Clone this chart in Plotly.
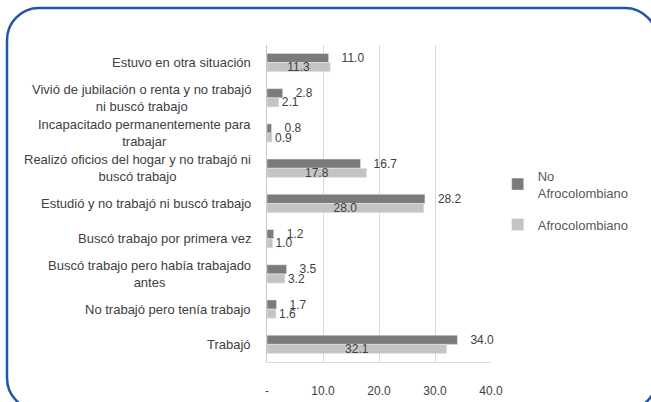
import plotly.graph_objects as go

categories = [
    "Estuvo en otra situación",
    "Vivió de jubilación o renta y no trabajó<br>ni buscó trabajo",
    "Incapacitado permanentemente para<br>trabajar",
    "Realizó oficios del hogar y no trabajó ni<br>buscó trabajo",
    "Estudió y no trabajó ni buscó trabajo",
    "Buscó trabajo por primera vez",
    "Buscó trabajo pero había trabajado<br>antes",
    "No trabajó pero tenía trabajo",
    "Trabajó",
]
no_afro = [11.0, 2.8, 0.8, 16.7, 28.2, 1.2, 3.5, 1.7, 34.0]
afro = [11.3, 2.1, 0.9, 17.8, 28.0, 1.0, 3.2, 1.6, 32.1]
series_names = ["No<br>Afrocolombiano", "Afrocolombiano"]
tick_vals = [0, 10, 20, 30, 40]
tick_text = ["-", "10.0", "20.0", "30.0", "40.0"]

W, H = 651, 402
ML, MR, MT, MB = 267, 160, 45, 40
PW = W - ML - MR
PH = H - MT - MB

FONT = "Liberation Sans, Arial"
TXT = "#404040"

fig = go.Figure()
fig.add_trace(go.Bar(
    y=categories, x=no_afro, orientation="h", name=series_names[0],
    marker=dict(color="#7b7b7b"),
    texttemplate="\u00a0\u00a0\u00a0%{x:.1f}", textposition="outside",
    constraintext="none",
    textfont=dict(family=FONT, size=12, color=TXT),
    cliponaxis=False, legendgroup="a",
))
afro_pos = ["inside" if v > 5 else "outside" for v in afro]
fig.add_trace(go.Bar(
    y=categories, x=afro, orientation="h", name=series_names[1],
    marker=dict(color="#c4c4c4"),
    texttemplate="%{x:.1f}", textposition=afro_pos, insidetextanchor="middle",
    constraintext="none",
    textfont=dict(family=FONT, size=12, color=TXT),
    insidetextfont=dict(family=FONT, size=12, color=TXT),
    outsidetextfont=dict(family=FONT, size=12, color=TXT),
    cliponaxis=False, legendgroup="b",
))

# category labels, centred line by line like the original
annotations = [
    dict(x=0, xref="paper", y=c, yref="y", text=c, showarrow=False,
         xanchor="right", xshift=-14, align="center",
         font=dict(family=FONT, size=13, color=TXT))
    for c in categories
]


def px(x):
    return (x - ML) / PW


def py(y):
    return (H - MB - y) / PH


L, T, R, B, r = 7, 8, 657, 410, 32
k = 0.5523 * r
pts = [
    ("M", [(L, T + r)]),
    ("C", [(L, T + r - k), (L + r - k, T), (L + r, T)]),
    ("L", [(R - r, T)]),
    ("C", [(R - r + k, T), (R, T + r - k), (R, T + r)]),
    ("L", [(R, B - r)]),
    ("C", [(R, B - r + k), (R - r + k, B), (R - r, B)]),
    ("L", [(L + r, B)]),
    ("C", [(L + r - k, B), (L, B - r + k), (L, B - r)]),
]
path = ""
for cmd, ps in pts:
    path += cmd + " " + " ".join(f"{px(a):.5f},{py(b):.5f}" for a, b in ps) + " "
path += "Z"

fig.update_layout(
    width=W, height=H,
    margin=dict(l=ML, r=MR, t=MT, b=MB, autoexpand=False),
    paper_bgcolor="white", plot_bgcolor="white",
    barmode="group", bargap=0.48, bargroupgap=0,
    font=dict(family=FONT, size=12, color=TXT),
    showlegend=True,
    legend=dict(x=1.03, xanchor="left", y=0.635, yanchor="top",
                font=dict(family=FONT, size=13, color="#595959"),
                traceorder="grouped", tracegroupgap=12,
                bgcolor="rgba(0,0,0,0)"),
    annotations=annotations,
    shapes=[dict(type="path", xref="paper", yref="paper", path=path,
                 line=dict(color="#1f56a6", width=2.5), layer="above")],
)
fig.update_xaxes(range=[0, 40], tickvals=tick_vals, ticktext=tick_text,
                 showgrid=True, gridcolor="#d9d9d9", gridwidth=1,
                 showline=True, linecolor="#d9d9d9", zeroline=False,
                 ticks="", ticklabelstandoff=18, automargin=False,
                 tickfont=dict(family=FONT, size=12, color=TXT))
fig.update_yaxes(autorange="reversed", showline=True, linecolor="#c8c8c8",
                 showgrid=False, ticks="", showticklabels=False,
                 automargin=False)

fig.write_html(
    "out.html",
    config={"displayModeBar": False},
    post_script="document.body.style.margin='0';document.body.style.overflow='hidden';",
)
